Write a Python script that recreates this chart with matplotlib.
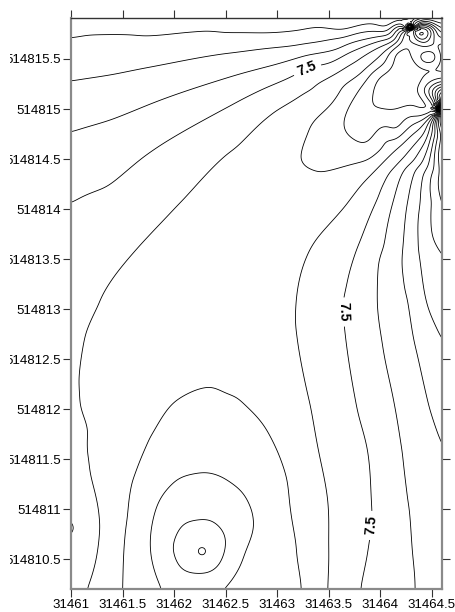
import numpy as np
import matplotlib
matplotlib.use("Agg")
import matplotlib.pyplot as plt
import matplotlib.tri as mtri
from matplotlib.ticker import FuncFormatter
from matplotlib.transforms import Bbox, TransformedBbox

plt.rcParams['font.family'] = ['Liberation Sans', 'DejaVu Sans']

# map extent (easting / northing)
x_min, x_max = 31461.0, 31464.6
y_min, y_max = 514810.2, 514815.91

# iso-lines: (easting, northing) points, one list per line
iso_90_up = [(31461.00, 514815.71), (31461.77, 514815.73), (31462.54, 514815.76),
             (31462.93, 514815.76), (31463.61, 514815.79), (31464.05, 514815.81)]
iso_85_up = [(31461.00, 514815.28), (31461.77, 514815.42), (31462.54, 514815.56),
             (31462.93, 514815.61), (31463.61, 514815.71), (31464.05, 514815.77)]
iso_80_up = [(31461.00, 514814.77), (31461.77, 514815.05), (31462.54, 514815.32),
             (31462.93, 514815.43), (31463.61, 514815.61), (31464.05, 514815.73)]
iso_75_up = [(31461.00, 514814.06), (31461.77, 514814.57), (31462.54, 514815.03),
             (31462.93, 514815.23), (31463.29, 514815.41), (31463.71, 514815.57),
             (31464.05, 514815.70)]
iso_70_left = [(31461.16, 514810.20), (31461.25, 514810.52), (31461.28, 514810.82),
               (31461.18, 514811.42), (31461.08, 514812.09), (31461.07, 514812.32),
               (31461.12, 514812.69), (31461.28, 514813.09), (31461.60, 514813.56),
               (31462.08, 514814.09), (31462.54, 514814.57), (31462.93, 514814.94),
               (31463.42, 514815.27), (31463.81, 514815.51), (31464.10, 514815.66)]
iso_70_right = [(31464.43, 514814.86), (31464.15, 514814.59), (31463.90, 514814.33),
                (31463.71, 514814.09), (31463.32, 514813.59), (31463.19, 514813.09),
                (31463.19, 514812.76), (31463.31, 514812.09), (31463.40, 514811.59),
                (31463.49, 514811.09), (31463.50, 514810.59), (31463.49, 514810.20)]
iso_75_low = [(31464.46, 514814.85), (31464.19, 514814.47), (31463.97, 514814.09),
              (31463.81, 514813.69), (31463.68, 514813.26), (31463.66, 514812.76),
              (31463.76, 514812.09), (31463.88, 514811.59), (31463.92, 514810.99),
              (31463.88, 514810.59), (31463.81, 514810.20)]
iso_80_low = [(31464.49, 514814.83), (31464.24, 514814.41), (31464.13, 514814.09),
              (31463.98, 514813.42), (31463.97, 514813.09), (31464.03, 514812.59),
              (31464.13, 514812.09), (31464.21, 514811.59), (31464.27, 514811.09),
              (31464.31, 514810.59), (31464.34, 514810.20)]
iso_85_low = [(31464.51, 514814.82), (31464.34, 514814.39), (31464.27, 514814.09),
              (31464.22, 514813.59), (31464.27, 514813.09), (31464.35, 514812.59),
              (31464.46, 514812.09), (31464.60, 514811.59)]
iso_90_low = [(31464.54, 514814.81), (31464.47, 514814.44), (31464.39, 514814.09),
              (31464.37, 514813.59), (31464.44, 514813.09), (31464.60, 514812.66)]
iso_95_low = [(31464.57, 514814.79), (31464.53, 514814.44), (31464.50, 514814.09),
              (31464.50, 514813.76), (31464.60, 514813.51)]
iso_65_u = [(31464.17, 514815.67), (31464.00, 514815.53), (31463.83, 514815.37),
            (31463.56, 514815.09), (31463.32, 514814.82), (31463.22, 514814.52),
            (31463.39, 514814.37), (31463.78, 514814.46), (31464.07, 514814.69),
            (31464.32, 514814.85), (31464.47, 514814.93)]
iso_60_u = [(31464.22, 514815.69), (31464.05, 514815.47), (31463.81, 514815.21),
            (31463.66, 514814.94), (31463.69, 514814.74), (31463.87, 514814.66),
            (31464.15, 514814.79), (31464.37, 514814.92), (31464.49, 514814.97)]
iso_55_u = [(31464.31, 514815.73), (31464.15, 514815.57), (31463.98, 514815.31),
            (31463.92, 514815.05), (31464.11, 514814.99), (31464.30, 514815.04),
            (31464.47, 514815.01)]
iso_65_loop = [(31461.50, 514810.20), (31461.52, 514810.69), (31461.60, 514811.29),
               (31461.77, 514811.72), (31461.99, 514812.06), (31462.16, 514812.17),
               (31462.32, 514812.22), (31462.48, 514812.17), (31462.64, 514812.09),
               (31462.90, 514811.79), (31463.08, 514811.36), (31463.13, 514810.99),
               (31463.19, 514810.59), (31463.24, 514810.20)]
iso_60_loop = [(31461.88, 514810.20), (31461.77, 514810.69), (31461.83, 514811.02),
               (31461.99, 514811.26), (31462.25, 514811.36), (31462.51, 514811.29),
               (31462.71, 514811.09), (31462.77, 514810.89), (31462.67, 514810.52),
               (31462.54, 514810.27), (31462.47, 514810.20)]
iso_55_loop = [(31461.99, 514810.62), (31462.06, 514810.81), (31462.25, 514810.89),
               (31462.43, 514810.83), (31462.50, 514810.66), (31462.43, 514810.44),
               (31462.25, 514810.36), (31462.06, 514810.42)]
iso_60_c = [(31464.38, 514815.52), (31464.47, 514815.58), (31464.55, 514815.52),
            (31464.47, 514815.46)]
iso_55_c = [(31464.31, 514815.52), (31464.47, 514815.62), (31464.56, 514815.52),
            (31464.47, 514815.42)]

iso_lines = [(9.0, iso_90_up), (8.5, iso_85_up), (8.0, iso_80_up), (7.5, iso_75_up),
             (7.0, iso_70_left), (7.0, iso_70_right), (7.5, iso_75_low),
             (8.0, iso_80_low), (8.5, iso_85_low), (9.0, iso_90_low), (9.5, iso_95_low),
             (6.5, iso_65_u), (6.0, iso_60_u), (5.5, iso_55_u),
             (6.5, iso_65_loop), (6.0, iso_60_loop), (5.5, iso_55_loop),
             (6.0, iso_60_c), (5.5, iso_55_c)]

# spot values inside the map
spot_x = [31462.30, 31464.15, 31464.29, 31464.20, 31464.47, 31464.34,
          31462.25, 31462.54, 31462.74, 31462.06, 31463.03, 31462.74, 31462.93,
          31461.57, 31461.50, 31463.00, 31461.77, 31463.22, 31463.08, 31463.61,
          31462.30, 31462.30, 31463.66, 31463.51, 31464.44, 31464.35, 31464.12,
          31463.83, 31464.00, 31464.14, 31463.42, 31463.69, 31462.00,
          31461.38, 31461.38, 31461.38, 31461.38,
          31463.22, 31463.22, 31463.22, 31463.22, 31462.25]
spot_y = [514810.53, 514815.34, 514815.19, 514815.49, 514815.52, 514815.39,
          514813.09, 514813.59, 514812.79, 514812.59, 514813.89, 514814.29, 514814.49,
          514812.39, 514811.50, 514812.50, 514813.09, 514814.09, 514814.69, 514814.24,
          514811.70, 514811.15, 514811.50, 514813.50, 514811.09, 514813.09, 514813.29,
          514813.09, 514811.84, 514810.64, 514813.09, 514810.64, 514814.30,
          514815.54, 514815.13, 514814.61, 514813.79,
          514815.71, 514815.58, 514815.45, 514815.26, 514815.83]
spot_z = [4.97, 5.2, 5.22, 5.25, 6.9, 5.25,
          6.8, 6.8, 6.8, 6.8, 6.8, 6.8, 6.85,
          6.9, 6.75, 6.85, 6.85, 6.8, 6.85, 6.8,
          6.25, 5.75, 7.3, 7.25, 8.3, 8.75, 8.25,
          7.75, 7.75, 7.75, 7.25, 7.25, 7.2,
          8.75, 8.25, 7.75, 7.25,
          8.75, 8.25, 7.75, 7.25, 9.1]

# values along the map border
left_y = [514810.20, 514810.45, 514810.65, 514810.81, 514810.97, 514811.20, 514811.60,
          514812.00, 514812.32, 514812.70, 514813.10, 514813.60, 514814.40,
          514815.00, 514815.50]
left_z = [7.1, 7.25, 7.4, 7.58, 7.4, 7.2, 7.1, 7.1, 7.08, 7.15, 7.25, 7.38, 7.75,
          8.22, 8.75]
right_y = [514810.20, 514810.89, 514812.09, 514813.09, 514813.94, 514814.29, 514814.59,
           514814.79, 514814.91, 514814.96, 514815.04, 514815.08, 514815.14, 514815.21,
           514815.27, 514815.34, 514815.43, 514815.52, 514815.61, 514815.68, 514815.71,
           514815.75, 514815.80, 514815.85, 514815.91]
right_z = [8.3, 8.4, 8.75, 9.25, 9.98, 10.3, 10.6, 11.0, 11.8, 12.4, 12.5, 11.0, 9.5,
           8.0, 6.5, 5.6, 5.3, 5.3, 5.25, 5.5, 6.0, 6.5, 7.0, 7.5, 8.0]
top_x = [31461.00, 31461.77, 31462.54, 31463.32, 31463.90, 31464.19, 31464.31,
         31464.41, 31464.50]
top_z = [9.2, 9.22, 9.25, 9.3, 9.35, 9.3, 8.9, 8.5, 8.2]
bottom_x = [31462.16, 31462.30, 31462.83]
bottom_z = [5.8, 5.8, 6.25]

# the two sharp spots in the north-east corner: value by direction round them
spot_a = (31464.29, 514815.82)
spot_a_peak = 13.0
ring_a_ang = [0, 20, 45, 90, 135, 170, 182, 192, 201, 207, 218, 233, 245, 257,
              280, 300, 320, 330, 340, 350]
ring_a_val = [7.2, 7.8, 8.2, 8.8, 9.2, 9.3, 9.0, 8.5, 8.0, 7.5, 7.0, 6.5, 6.0, 5.5,
              5.25, 5.2, 5.4, 5.6, 6.2, 6.7]
spot_b = (31464.57, 514815.00)
spot_b_peak = 14.0
ring_b_ang = [0, 30, 60, 80, 100, 120, 140, 160, 180, 200, 212, 223, 235, 245, 255,
              265, 272, 290, 310, 330]
ring_b_val = [12.8, 12.5, 11.0, 9.5, 8.0, 6.8, 5.8, 5.3, 5.6, 6.0, 6.5, 7.0, 7.5,
              8.0, 8.5, 9.0, 9.5, 10.5, 11.5, 12.3]

levels = np.arange(3.0, 14.01, 0.5)
label_level = 7.5
label_pos = [(31463.29, 514815.39), (31463.64, 514812.97), (31463.90, 514810.84)]


# collect all samples
px, py, pz = [], [], []
for z, line in iso_lines:
    for x, y in line:
        px.append(x); py.append(y); pz.append(z)
px += spot_x; py += spot_y; pz += spot_z
px += [x_min] * len(left_y); py += left_y; pz += left_z
px += [x_max] * len(right_y); py += right_y; pz += right_z
px += top_x; py += [y_max] * len(top_x); pz += top_z
px += bottom_x; py += [y_min] * len(bottom_x); pz += bottom_z
for (cx, cy), peak, angs, vals, r in [(spot_a, spot_a_peak, ring_a_ang, ring_a_val, 0.04),
                                      (spot_b, spot_b_peak, ring_b_ang, ring_b_val, 0.03)]:
    px.append(cx); py.append(cy); pz.append(peak)
    for a, v in zip(angs, vals):
        px.append(cx + r * np.cos(np.radians(a)))
        py.append(cy + r * np.sin(np.radians(a)))
        pz.append(v)

px = np.array(px); py = np.array(py); pz = np.array(pz)

# grid the samples (local coordinates for the triangulation)
tri = mtri.Triangulation(px - x_min, py - y_min)
interp = mtri.CubicTriInterpolator(tri, pz, kind='geom')
step = 0.005
gxs = np.linspace(x_min + 1e-7, x_max - 1e-7, int(round((x_max - x_min) / step)) + 1)
gys = np.linspace(y_min + 1e-7, y_max - 1e-7, int(round((y_max - y_min) / step)) + 1)
gx, gy = np.meshgrid(gxs, gys)
gz_raw = interp(gx - x_min, gy - y_min)
gz_raw = np.ma.filled(gz_raw, np.nan)
if np.isnan(gz_raw).any():
    lin = mtri.LinearTriInterpolator(tri, pz)
    fill = np.ma.filled(lin(gx - x_min, gy - y_min), np.nan)
    gz_raw = np.where(np.isnan(gz_raw), fill, gz_raw)
    gz_raw = np.where(np.isnan(gz_raw), np.nanmean(gz_raw), gz_raw)


# light smoothing of the gridded surface, away from the two sharp spots
def blur(a, sigma):
    n = int(3 * sigma)
    k = np.exp(-0.5 * (np.arange(-n, n + 1) / sigma) ** 2)
    k /= k.sum()
    p = np.pad(a, n, mode='edge')
    p = np.apply_along_axis(lambda r: np.convolve(r, k, mode='valid'), 1, p)
    p = np.apply_along_axis(lambda c: np.convolve(c, k, mode='valid'), 0, p)
    return p


gz_s = blur(gz_raw, 8)
keep = np.zeros_like(gz_raw)
for cx, cy in [spot_a, spot_b]:
    d2 = (gx - cx) ** 2 + (gy - cy) ** 2
    keep = np.maximum(keep, np.exp(-d2 / 0.08 ** 2))
gz = keep * gz_raw + (1 - keep) * gz_s

fig = plt.figure(figsize=(4.56, 6.12), dpi=100)
ax = fig.add_axes([71 / 456, 1 - 589 / 612, 371 / 456, 571 / 612])

other_levels = [lv for lv in levels if abs(lv - label_level) > 1e-9]
ax.contour(gx, gy, gz, levels=other_levels, colors='black', linewidths=0.6)
cs75 = ax.contour(gx, gy, gz, levels=[label_level], colors='black', linewidths=0.6)
labels = ax.clabel(cs75, manual=label_pos, inline=True, fmt='%.1f', fontsize=10)
for t in labels:
    t.set_fontweight('bold')

ax.set_xlim(x_min, x_max)
ax.set_ylim(y_min, y_max)
ax.set_xticks(np.arange(31461, 31464.51, 0.5))
ax.set_yticks(np.arange(514810.5, 514815.51, 0.5))
fmt = FuncFormatter(lambda v, p: ('%.1f' % v).rstrip('0').rstrip('.'))
ax.xaxis.set_major_formatter(fmt)
ax.yaxis.set_major_formatter(fmt)
ax.tick_params(axis='both', direction='out', length=5.5, width=0.8, color='#333333',
               labelsize=9.5, top=True, right=True, pad=1.5)

for side in ['left', 'bottom', 'right']:
    ax.spines[side].set_color('#8a8a8a')
    ax.spines[side].set_linewidth(1.6)
ax.spines['top'].set_color('#333333')
ax.spines['top'].set_linewidth(1.0)

# the long northings run off the left edge of the page
clip = TransformedBbox(Bbox.from_bounds(10 / 456, 0, 1, 1), fig.transFigure)
for lab in ax.get_yticklabels():
    lab.set_clip_box(clip)
    lab.set_clip_on(True)

fig.savefig('out.png', dpi=100)
